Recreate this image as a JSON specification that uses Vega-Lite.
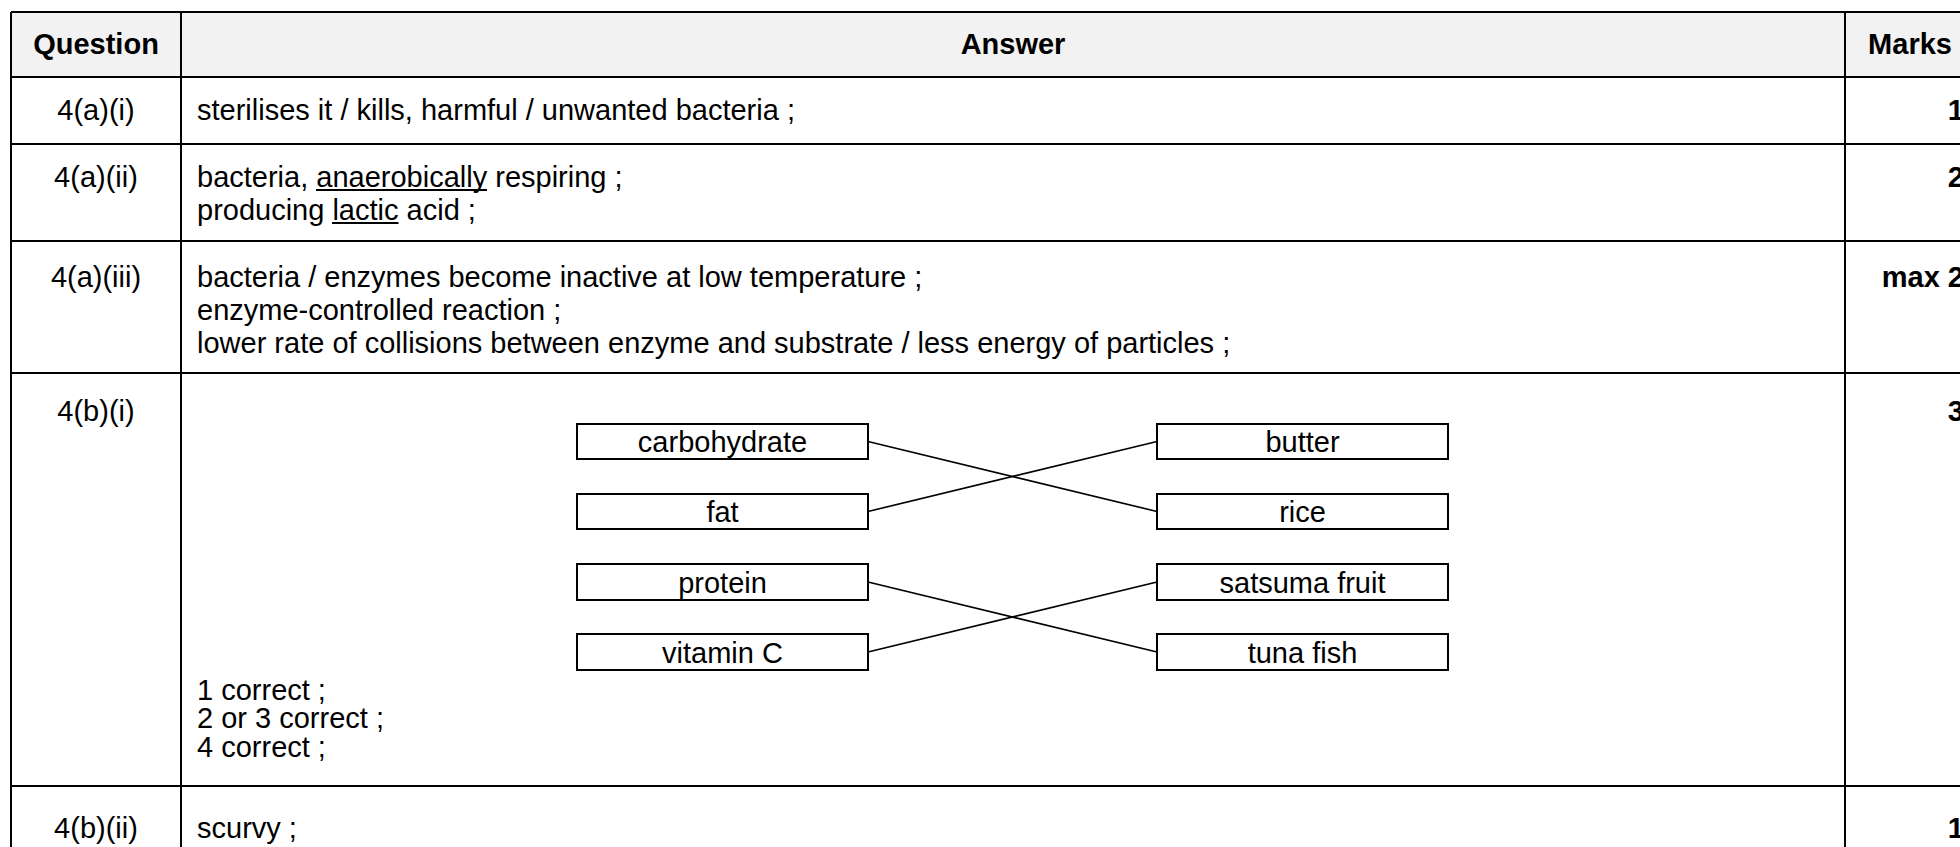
{
  "$schema": "https://vega.github.io/schema/vega-lite/v6.json",
  "width": 1960,
  "height": 847,
  "padding": 0,
  "autosize": {"type": "fit", "contains": "padding"},
  "background": "white",
  "config": {"view": {"stroke": null}, "text": {"font": "Liberation Sans", "fontSize": 29, "color": "black"}},
  "datasets": {
    "header": [{"x0": 11, "x1": 1960, "y0": 12, "y1": 77}],
    "grid": [
      {"x0": 11, "x1": 1960, "y0": 12, "y1": 12},
      {"x0": 11, "x1": 1960, "y0": 77, "y1": 77},
      {"x0": 11, "x1": 1960, "y0": 144, "y1": 144},
      {"x0": 11, "x1": 1960, "y0": 241, "y1": 241},
      {"x0": 11, "x1": 1960, "y0": 373, "y1": 373},
      {"x0": 11, "x1": 1960, "y0": 786, "y1": 786},
      {"x0": 11, "x1": 11, "y0": 12, "y1": 847},
      {"x0": 181, "x1": 181, "y0": 12, "y1": 847},
      {"x0": 1845, "x1": 1845, "y0": 12, "y1": 847}
    ],
    "headers": [
      {"text": "Question", "x": 96, "y": 54},
      {"text": "Answer", "x": 1013, "y": 54},
      {"text": "Marks", "x": 1910, "y": 54}
    ],
    "questions": [
      {"text": "4(a)(i)", "x": 96, "y": 120},
      {"text": "4(a)(ii)", "x": 96, "y": 187},
      {"text": "4(a)(iii)", "x": 96, "y": 287},
      {"text": "4(b)(i)", "x": 96, "y": 421},
      {"text": "4(b)(ii)", "x": 96, "y": 838}
    ],
    "answers": [
      {"text": "sterilises it / kills, harmful / unwanted bacteria ;", "x": 197, "y": 120},
      {"text": "bacteria, anaerobically respiring ;", "x": 197, "y": 187},
      {"text": "producing lactic acid ;", "x": 197, "y": 220},
      {"text": "bacteria / enzymes become inactive at low temperature ;", "x": 197, "y": 287},
      {"text": "enzyme-controlled reaction ;", "x": 197, "y": 320},
      {"text": "lower rate of collisions between enzyme and substrate / less energy of particles ;", "x": 197, "y": 353},
      {"text": "1 correct ;", "x": 197, "y": 700},
      {"text": "2 or 3 correct ;", "x": 197, "y": 728},
      {"text": "4 correct ;", "x": 197, "y": 757},
      {"text": "scurvy ;", "x": 197, "y": 838}
    ],
    "marks": [
      {"text": "1", "x": 1964, "y": 120},
      {"text": "2", "x": 1964, "y": 187},
      {"text": "max 2", "x": 1964, "y": 287},
      {"text": "3", "x": 1964, "y": 421},
      {"text": "1", "x": 1964, "y": 838}
    ],
    "underlines": [
      {"word": "anaerobically", "x0": 316, "x1": 487, "y": 190},
      {"word": "lactic", "x0": 332, "x1": 398.5, "y": 223}
    ],
    "boxes": [
      {"label": "carbohydrate", "x0": 577, "x1": 868, "y0": 424, "y1": 459, "xc": 722.5, "yc": 441.5},
      {"label": "fat", "x0": 577, "x1": 868, "y0": 494, "y1": 529, "xc": 722.5, "yc": 511.5},
      {"label": "protein", "x0": 577, "x1": 868, "y0": 564, "y1": 600, "xc": 722.5, "yc": 582},
      {"label": "vitamin C", "x0": 577, "x1": 868, "y0": 634, "y1": 670, "xc": 722.5, "yc": 652},
      {"label": "butter", "x0": 1157, "x1": 1448, "y0": 424, "y1": 459, "xc": 1302.5, "yc": 441.5},
      {"label": "rice", "x0": 1157, "x1": 1448, "y0": 494, "y1": 529, "xc": 1302.5, "yc": 511.5},
      {"label": "satsuma fruit", "x0": 1157, "x1": 1448, "y0": 564, "y1": 600, "xc": 1302.5, "yc": 582},
      {"label": "tuna fish", "x0": 1157, "x1": 1448, "y0": 634, "y1": 670, "xc": 1302.5, "yc": 652}
    ],
    "links": [
      {"from": "carbohydrate", "to": "rice", "x0": 868, "y0": 441.5, "x1": 1157, "y1": 511.5},
      {"from": "fat", "to": "butter", "x0": 868, "y0": 511.5, "x1": 1157, "y1": 441.5},
      {"from": "protein", "to": "tuna fish", "x0": 868, "y0": 582, "x1": 1157, "y1": 652},
      {"from": "vitamin C", "to": "satsuma fruit", "x0": 868, "y0": 652, "x1": 1157, "y1": 582}
    ]
  },
  "layer": [
    {
      "data": {"name": "header"},
      "mark": {"type": "rect", "color": "#f2f2f2", "clip": true},
      "encoding": {
        "x": {"field": "x0", "type": "quantitative", "scale": {"domain": [0, 1960], "nice": false, "zero": false}, "axis": null},
        "x2": {"field": "x1"},
        "y": {"field": "y0", "type": "quantitative", "scale": {"domain": [0, 847], "nice": false, "zero": false, "reverse": true}, "axis": null},
        "y2": {"field": "y1"}
      }
    },
    {
      "data": {"name": "grid"},
      "mark": {"type": "rule", "color": "black", "strokeWidth": 2, "clip": true},
      "encoding": {
        "x": {"field": "x0", "type": "quantitative"},
        "x2": {"field": "x1"},
        "y": {"field": "y0", "type": "quantitative"},
        "y2": {"field": "y1"}
      }
    },
    {
      "data": {"name": "underlines"},
      "mark": {"type": "rule", "color": "black", "strokeWidth": 2, "clip": true},
      "encoding": {
        "x": {"field": "x0", "type": "quantitative"},
        "x2": {"field": "x1"},
        "y": {"field": "y", "type": "quantitative"}
      }
    },
    {
      "data": {"name": "boxes"},
      "mark": {"type": "rect", "fill": "white", "stroke": "black", "strokeWidth": 2, "clip": true},
      "encoding": {
        "x": {"field": "x0", "type": "quantitative"},
        "x2": {"field": "x1"},
        "y": {"field": "y0", "type": "quantitative"},
        "y2": {"field": "y1"}
      }
    },
    {
      "data": {"name": "links"},
      "mark": {"type": "rule", "color": "black", "strokeWidth": 1.6, "clip": true},
      "encoding": {
        "x": {"field": "x0", "type": "quantitative"},
        "x2": {"field": "x1"},
        "y": {"field": "y0", "type": "quantitative"},
        "y2": {"field": "y1"}
      }
    },
    {
      "data": {"name": "boxes"},
      "mark": {"type": "text", "align": "center", "baseline": "alphabetic", "dy": 10.5, "clip": true},
      "encoding": {
        "x": {"field": "xc", "type": "quantitative"},
        "y": {"field": "yc", "type": "quantitative"},
        "text": {"field": "label"}
      }
    },
    {
      "data": {"name": "headers"},
      "mark": {"type": "text", "align": "center", "baseline": "alphabetic", "fontWeight": "bold", "clip": true},
      "encoding": {
        "x": {"field": "x", "type": "quantitative"},
        "y": {"field": "y", "type": "quantitative"},
        "text": {"field": "text"}
      }
    },
    {
      "data": {"name": "questions"},
      "mark": {"type": "text", "align": "center", "baseline": "alphabetic", "clip": true},
      "encoding": {
        "x": {"field": "x", "type": "quantitative"},
        "y": {"field": "y", "type": "quantitative"},
        "text": {"field": "text"}
      }
    },
    {
      "data": {"name": "answers"},
      "mark": {"type": "text", "align": "left", "baseline": "alphabetic", "clip": true},
      "encoding": {
        "x": {"field": "x", "type": "quantitative"},
        "y": {"field": "y", "type": "quantitative"},
        "text": {"field": "text"}
      }
    },
    {
      "data": {"name": "marks"},
      "mark": {"type": "text", "align": "right", "baseline": "alphabetic", "fontWeight": "bold", "clip": true},
      "encoding": {
        "x": {"field": "x", "type": "quantitative"},
        "y": {"field": "y", "type": "quantitative"},
        "text": {"field": "text"}
      }
    }
  ]
}
